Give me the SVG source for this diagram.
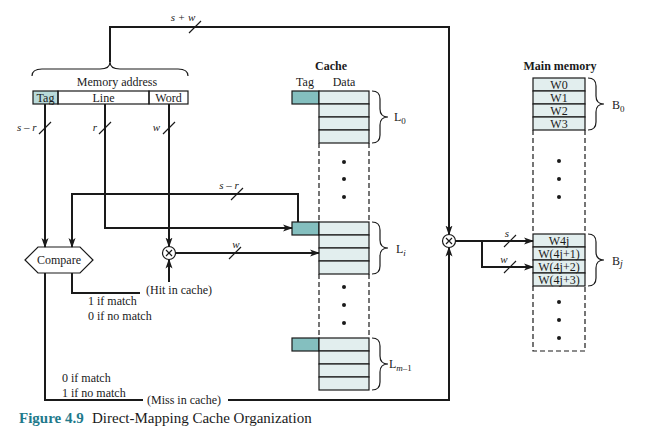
<svg xmlns="http://www.w3.org/2000/svg" width="651" height="429" viewBox="0 0 651 429">
<style>
text{font-family:"Liberation Serif","Times New Roman",serif;fill:#1a1a1a}
.t11{font-size:11px}
.t12{font-size:12px}
.w{font-size:12px}
.it{font-style:italic}
.b{font-weight:bold}
.ln{fill:none;stroke:#1a1a1a;stroke-width:2}
.thin{fill:none;stroke:#1a1a1a;stroke-width:1.2}
.dash{fill:none;stroke:#1a1a1a;stroke-width:1.2;stroke-dasharray:5,3}
.tag{fill:#84bfbf;stroke:#1a1a1a;stroke-width:1.2}
.dat{fill:#e2eeee;stroke:#1a1a1a;stroke-width:1.2}
.atag{fill:#b9dada;stroke:#1a1a1a;stroke-width:1.2}
.dot{fill:#1a1a1a}
</style>
<defs>
<marker id="ah" markerWidth="10" markerHeight="8" refX="9" refY="4" orient="auto" markerUnits="userSpaceOnUse">
<path d="M0,0.5 L10,4 L0,7.5 L2.5,4 z" fill="#1a1a1a"/>
</marker>
</defs>
<rect width="651" height="429" fill="#fff"/>

<!-- memory address -->
<g id="memaddr">
<text class="t12" x="117" y="86" text-anchor="middle">Memory address</text>
<rect class="atag" x="33" y="91" width="25" height="13"/>
<rect class="thin" x="58" y="91" width="91" height="13" fill="#fff"/>
<rect class="thin" x="149" y="91" width="39" height="13" fill="#fff"/>
<text class="t12" x="45.5" y="102" text-anchor="middle">Tag</text>
<text class="t12" x="103.5" y="102" text-anchor="middle">Line</text>
<text class="t12" x="168.5" y="102" text-anchor="middle">Word</text>
<path class="thin" d="M32,76 Q32,69 42,69 L100,69 Q110,69 110,62 Q110,69 120,69 L178,69 Q188,69 188,76"/>
</g>

<!-- cache -->
<g id="cache">
<text class="t12 b" x="331" y="70" text-anchor="middle">Cache</text>
<text class="t12" x="305" y="86" text-anchor="middle">Tag</text>
<text class="t12" x="344" y="86" text-anchor="middle">Data</text>
<rect class="tag" x="292" y="91" width="27" height="13"/>
<rect class="dat" x="319" y="91" width="50" height="13"/>
<rect class="dat" x="319" y="104" width="50" height="13"/>
<rect class="dat" x="319" y="117" width="50" height="13"/>
<rect class="dat" x="319" y="130" width="50" height="13"/>
<path class="thin" d="M372,91 Q380,91 380,99 L380,109 Q380,117 388,117 Q380,117 380,125 L380,135 Q380,143 372,143"/>
<text class="t12" x="394" y="121">L<tspan font-size="9" dy="3">0</tspan></text>
<path class="dash" d="M319,143 L319,222 M369,143 L369,222"/>
<circle class="dot" cx="344" cy="162" r="2"/>
<circle class="dot" cx="344" cy="179" r="2"/>
<circle class="dot" cx="344" cy="197" r="2"/>
<rect class="tag" x="292" y="222" width="27" height="13"/>
<rect class="dat" x="319" y="222" width="50" height="13"/>
<rect class="dat" x="319" y="235" width="50" height="13"/>
<rect class="dat" x="319" y="248" width="50" height="13"/>
<rect class="dat" x="319" y="261" width="50" height="13"/>
<path class="thin" d="M372,222 Q380,222 380,230 L380,240 Q380,248 388,248 Q380,248 380,256 L380,266 Q380,274 372,274"/>
<text class="t12" x="396" y="253">L<tspan class="it" font-size="9" dy="3">i</tspan></text>
<path class="dash" d="M319,274 L319,338 M369,274 L369,338"/>
<circle class="dot" cx="344" cy="287" r="2"/>
<circle class="dot" cx="344" cy="305" r="2"/>
<circle class="dot" cx="344" cy="323" r="2"/>
<rect class="tag" x="292" y="338" width="27" height="13"/>
<rect class="dat" x="319" y="338" width="50" height="13"/>
<rect class="dat" x="319" y="351" width="50" height="13"/>
<rect class="dat" x="319" y="364" width="50" height="13"/>
<rect class="dat" x="319" y="377" width="50" height="13"/>
<path class="thin" d="M372,338 Q380,338 380,346 L380,356 Q380,364 388,364 Q380,364 380,372 L380,382 Q380,390 372,390"/>
<text class="t12" x="389" y="368">L<tspan font-size="9" dy="3"><tspan class="it">m</tspan>–1</tspan></text>
</g>

<!-- main memory -->
<g id="mainmem">
<text class="t12 b" x="560" y="70" text-anchor="middle">Main memory</text>
<rect class="dat" x="533" y="78" width="52" height="13"/>
<rect class="dat" x="533" y="91" width="52" height="13"/>
<rect class="dat" x="533" y="104" width="52" height="13"/>
<rect class="dat" x="533" y="117" width="52" height="13"/>
<text class="w" x="559" y="89" text-anchor="middle">W0</text>
<text class="w" x="559" y="102" text-anchor="middle">W1</text>
<text class="w" x="559" y="115" text-anchor="middle">W2</text>
<text class="w" x="559" y="128" text-anchor="middle">W3</text>
<path class="thin" d="M588,78 Q596,78 596,86 L596,96 Q596,104 604,104 Q596,104 596,112 L596,122 Q596,130 588,130"/>
<text class="t12" x="612" y="109">B<tspan font-size="9" dy="3">0</tspan></text>
<path class="dash" d="M533,130 L533,234 M585,130 L585,234"/>
<circle class="dot" cx="559" cy="161" r="2"/>
<circle class="dot" cx="559" cy="179" r="2"/>
<circle class="dot" cx="559" cy="197" r="2"/>
<rect class="dat" x="533" y="234" width="52" height="13"/>
<rect class="dat" x="533" y="247" width="52" height="13"/>
<rect class="dat" x="533" y="260" width="52" height="13"/>
<rect class="dat" x="533" y="273" width="52" height="13"/>
<text class="w" x="559" y="245" text-anchor="middle">W4j</text>
<text class="w" x="559" y="258" text-anchor="middle">W(4j+1)</text>
<text class="w" x="559" y="271" text-anchor="middle">W(4j+2)</text>
<text class="w" x="559" y="284" text-anchor="middle">W(4j+3)</text>
<path class="thin" d="M588,234 Q596,234 596,242 L596,252 Q596,260 604,260 Q596,260 596,268 L596,278 Q596,286 588,286"/>
<text class="t12" x="612" y="265">B<tspan class="it" font-size="10" dy="2">j</tspan></text>
<path class="dash" d="M533,286 L533,351 L585,351 L585,286"/>
<circle class="dot" cx="559" cy="302" r="2"/>
<circle class="dot" cx="559" cy="320" r="2"/>
<circle class="dot" cx="559" cy="338" r="2"/>
</g>

<!-- compare -->
<g id="compare">
<polygon points="25,260 38,247 80,247 93,260 80,273 38,273" fill="#fff" stroke="#1a1a1a" stroke-width="1.2"/>
<text class="t12" x="59" y="264" text-anchor="middle">Compare</text>
</g>

<!-- selectors -->
<g id="sel1">
<circle cx="169" cy="253" r="6.5" fill="#fff" stroke="#1a1a1a" stroke-width="1.2"/>
<path class="thin" d="M166,250 L172,256 M172,250 L166,256"/>
</g>
<g id="sel2">
<circle cx="449" cy="241" r="6.5" fill="#fff" stroke="#1a1a1a" stroke-width="1.2"/>
<path class="thin" d="M446,238 L452,244 M452,238 L446,244"/>
</g>

<!-- connectors -->
<g id="connectors">
<path class="ln" d="M110,62 L110,27 L449,27 L449,234.5" marker-end="url(#ah)"/>
<path class="ln" d="M45,104 L45,247" marker-end="url(#ah)"/>
<path class="ln" d="M105,104 L105,228 L292,228" marker-end="url(#ah)"/>
<path class="ln" d="M169,104 L169,246.5" marker-end="url(#ah)"/>
<path class="ln" d="M298,222 L298,194 L72,194 L72,247" marker-end="url(#ah)"/>
<path class="ln" d="M175.5,253 L319,253" marker-end="url(#ah)"/>
<path class="ln" d="M72,273 L72,293 L140,293"/>
<path class="ln" d="M169,282 L169,259.5" marker-end="url(#ah)"/>
<path class="ln" d="M45,273 L45,400 L143,400"/>
<path class="ln" d="M228,400 L449,400 L449,247.5" marker-end="url(#ah)"/>
<path class="ln" d="M455.5,241 L533,241" marker-end="url(#ah)"/>
<path class="ln" d="M482,241 L482,267 L533,267" marker-end="url(#ah)"/>
<path class="thin" d="M189,33 L201,21 M39,134 L51,122 M99,134 L111,122 M163,134 L175,122 M231,200 L243,188 M229,259 L241,247 M504,247 L516,235 M504,273 L516,261"/>
<text class="t11 it" x="183" y="21" text-anchor="middle">s + w</text>
<text class="t11 it" x="17" y="131">s – r</text>
<text class="t11 it" x="97" y="131" text-anchor="end">r</text>
<text class="t11 it" x="160" y="131" text-anchor="end">w</text>
<text class="t11 it" x="229" y="189" text-anchor="middle">s – r</text>
<text class="t11 it" x="236" y="248" text-anchor="middle">w</text>
<text class="t11 it" x="507" y="237" text-anchor="middle">s</text>
<text class="t11 it" x="504" y="263" text-anchor="middle">w</text>
<text class="t12" x="146" y="294">(Hit in cache)</text>
<text class="t12" x="88" y="305">1 if match</text>
<text class="t12" x="88" y="320">0 if no match</text>
<text class="t12" x="62" y="382">0 if match</text>
<text class="t12" x="62" y="397">1 if no match</text>
<text class="t12" x="147" y="404">(Miss in cache)</text>
</g>

<text x="19" y="423" font-size="15" font-weight="bold" style="fill:#1f7a8c">Figure 4.9</text>
<text x="92" y="423" font-size="15">Direct-Mapping Cache Organization</text>
</svg>
